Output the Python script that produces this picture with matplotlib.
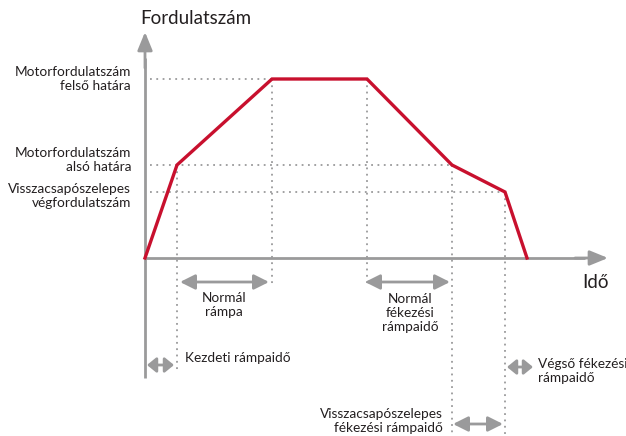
import matplotlib.pyplot as plt

plt.rcParams['font.family'] = ['Lato', 'DejaVu Sans']

# Fordulatszám-profil töréspontjai (idő, fordulatszám), önkényes egységekben
ido = [0, 0.32, 1.27, 2.22, 3.07, 3.60, 3.82]
fordulat = [0, 0.93, 1.79, 1.79, 0.93, 0.66, 0]

felso_hatar = 1.79
also_hatar = 0.93
visszacsapo = 0.66

szurke = '#9a9a9b'
piros = '#c8102e'
szoveg = '#231f20'

fig = plt.figure(figsize=(6.26, 4.36), dpi=100)
ax = fig.add_axes([0, 0, 1, 1])
ax.set_xlim(-1.45, 4.81)
ax.set_ylim(-1.78, 2.58)
ax.axis('off')

# tengelyek nyilakkal
ax.plot([0, 0], [-1.20, 2.0], color=szurke, lw=2, solid_capstyle='butt')
ax.annotate('', xy=(0, 2.26), xytext=(0, 1.9),
            arrowprops=dict(arrowstyle='-|>,head_length=1.1,head_width=0.45',
                            color=szurke, lw=2, shrinkA=0, shrinkB=0))
ax.plot([0, 4.4], [0, 0], color=szurke, lw=2, solid_capstyle='butt')
ax.annotate('', xy=(4.63, 0), xytext=(4.3, 0),
            arrowprops=dict(arrowstyle='-|>,head_length=1.1,head_width=0.45',
                            color=szurke, lw=2, shrinkA=0, shrinkB=0))

# pontozott segédvonalak
pont = dict(color=szurke, lw=1.3, ls=(0, (1, 2.5)))
ax.plot([0.05, ido[3]], [felso_hatar, felso_hatar], **pont)
ax.plot([0.05, ido[4]], [also_hatar, also_hatar], **pont)
ax.plot([0.05, ido[5]], [visszacsapo, visszacsapo], **pont)
ax.plot([ido[1], ido[1]], [also_hatar, -1.12], **pont)
ax.plot([ido[2], ido[2]], [felso_hatar, -0.27], **pont)
ax.plot([ido[3], ido[3]], [felso_hatar, -0.27], **pont)
ax.plot([ido[4], ido[4]], [also_hatar, -1.78], **pont)
ax.plot([ido[5], ido[5]], [visszacsapo, -1.78], **pont)

# fordulatszám-görbe
ax.plot(ido, fordulat, color=piros, lw=2.4, solid_joinstyle='miter')


def ketiranyu(x0, x1, y, fej=0.9):
    ax.annotate('', xy=(x1, y), xytext=(x0, y),
                arrowprops=dict(arrowstyle='<|-|>,head_length=%.2f,head_width=0.45' % fej,
                                color=szurke, lw=2, shrinkA=0, shrinkB=0))


ketiranyu(ido[1] + 0.03, ido[2] - 0.03, -0.24)
ketiranyu(ido[3] - 0.02, ido[4] - 0.02, -0.24)
ketiranyu(0.02, ido[1] - 0.03, -1.07, fej=0.55)
ketiranyu(ido[5] + 0.02, ido[5] + 0.28, -1.09, fej=0.55)
ketiranyu(ido[4] + 0.01, ido[5] - 0.02, -1.66)

# feliratok
fs = 9.8
ls = 1.18
ax.text(-0.05, 2.40, 'Fordulatszám', fontsize=13.5, color=szoveg,
        ha='left', va='center')
ax.text(4.37, -0.24, 'Idő', fontsize=13.5, color=szoveg, ha='left', va='center')

ax.text(-0.14, felso_hatar, 'Motorfordulatszám\nfelső határa', fontsize=fs,
        color=szoveg, ha='right', va='center', linespacing=ls)
ax.text(-0.14, also_hatar + 0.05, 'Motorfordulatszám\nalsó határa', fontsize=fs,
        color=szoveg, ha='right', va='center', linespacing=ls)
ax.text(-0.14, visszacsapo - 0.04, 'Visszacsapószelepes\nvégfordulatszám',
        fontsize=fs, color=szoveg, ha='right', va='center', linespacing=ls)

ax.text(0.79, -0.47, 'Normál\nrámpa', fontsize=fs, color=szoveg,
        ha='center', va='center', linespacing=ls)
ax.text(2.65, -0.55, 'Normál\nfékezési\nrámpaidő', fontsize=fs, color=szoveg,
        ha='center', va='center', linespacing=ls)
ax.text(0.40, -1.00, 'Kezdeti rámpaidő', fontsize=fs, color=szoveg,
        ha='left', va='center')
ax.text(3.93, -1.13, 'Végső fékezési\nrámpaidő', fontsize=fs, color=szoveg,
        ha='left', va='center', linespacing=ls)
ax.text(2.98, -1.63, 'Visszacsapószelepes\nfékezési rámpaidő', fontsize=fs,
        color=szoveg, ha='right', va='center', linespacing=ls)

fig.savefig('out.png', dpi=100, facecolor='white')
